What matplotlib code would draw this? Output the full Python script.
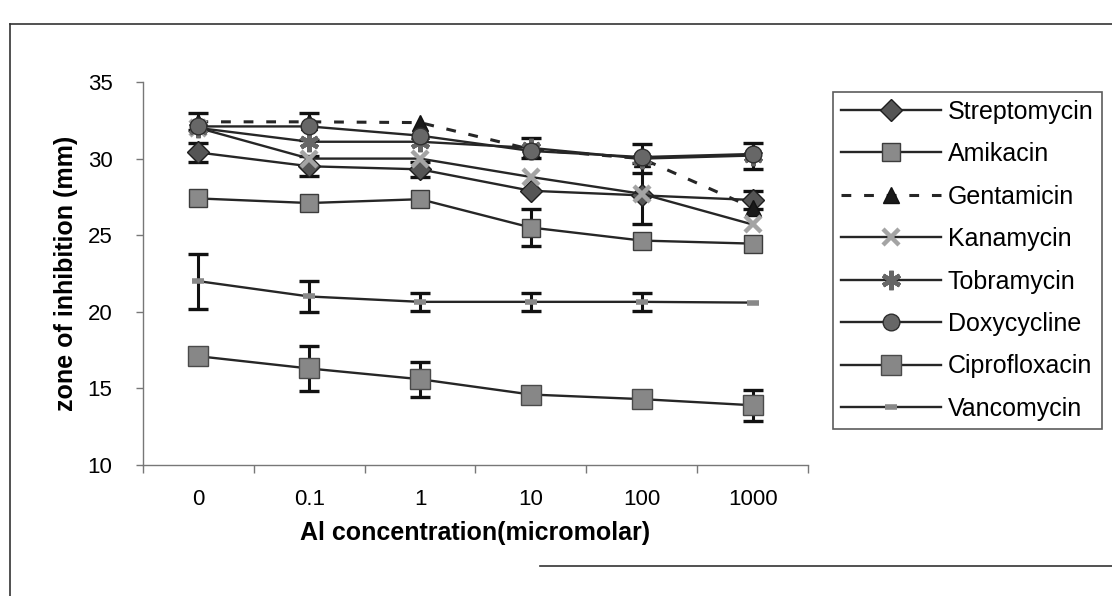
import matplotlib
matplotlib.use("Agg")
import matplotlib.pyplot as plt
from matplotlib.lines import Line2D
import numpy as np

plt.rcParams['font.family'] = ['Liberation Sans', 'DejaVu Sans']

# Al concentration categories (micromolar)
concentrations = ['0', '0.1', '1', '10', '100', '1000']

# Mean zone of inhibition (mm) per antibiotic
streptomycin = [30.4, 29.5, 29.3, 27.9, 27.6, 27.3]
amikacin = [27.4, 27.1, 27.35, 25.5, 24.65, 24.45]
gentamicin = [32.4, 32.4, 32.35, 30.6, 30.0, 26.8]
kanamycin = [32.0, 30.0, 30.0, 28.8, 27.7, 25.7]
tobramycin = [32.0, 31.1, 31.1, 30.7, 30.0, 30.2]
doxycycline = [32.1, 32.1, 31.5, 30.5, 30.1, 30.3]
ciprofloxacin = [17.1, 16.3, 15.6, 14.6, 14.3, 13.9]
vancomycin = [22.0, 21.0, 20.65, 20.65, 20.65, 20.6]

# Standard deviations (mm)
streptomycin_sd = [0.6, 0.65, 0.5, 0.0, 0.0, 0.6]
amikacin_sd = [0.0, 0.0, 0.0, 1.2, 0.0, 0.0]
gentamicin_sd = [0.55, 0.0, 0.0, 0.0, 0.0, 0.0]
kanamycin_sd = [0.0, 0.0, 0.0, 0.0, 2.0, 0.0]
tobramycin_sd = [0.0, 0.0, 0.0, 0.65, 0.95, 0.85]
doxycycline_sd = [0.0, 0.9, 0.0, 0.0, 0.0, 0.0]
ciprofloxacin_sd = [0.0, 1.5, 1.15, 0.0, 0.0, 1.0]
vancomycin_sd = [1.8, 1.0, 0.6, 0.6, 0.6, 0.0]

series = [
    ('Streptomycin', streptomycin, streptomycin_sd,
     dict(marker='D', ms=11, mfc='#555555', mec='#1e1e1e', ls='-')),
    ('Amikacin', amikacin, amikacin_sd,
     dict(marker='s', ms=13, mfc='#8a8a8a', mec='#3c3c3c', ls='-')),
    ('Gentamicin', gentamicin, gentamicin_sd,
     dict(marker='^', ms=12, mfc='#1a1a1a', mec='#111111', ls=(0, (3.2, 4.2)), lw=2.2)),
    ('Kanamycin', kanamycin, kanamycin_sd,
     dict(marker='x', ms=12, mfc='#a8a8a8', mec='#a4a4a4', mew=3.2, ls='-')),
    ('Tobramycin', tobramycin, tobramycin_sd,
     dict(marker=(6, 2, 0), ms=14, mfc='#666666', mec='#666666', mew=3.2, ls='-')),
    ('Doxycycline', doxycycline, doxycycline_sd,
     dict(marker='o', ms=12, mfc='#676767', mec='#2e2e2e', ls='-')),
    ('Ciprofloxacin', ciprofloxacin, ciprofloxacin_sd,
     dict(marker='s', ms=14, mfc='#878787', mec='#4a4a4a', ls='-')),
    ('Vancomycin', vancomycin, vancomycin_sd,
     dict(marker='_', ms=9, mfc='#888888', mec='#888888', mew=4, ls='-')),
]

fig = plt.figure(figsize=(11.12, 5.96), dpi=100)
ax = fig.add_axes([143 / 1112, 1 - 465 / 596, (808 - 143) / 1112, (465 - 82) / 596])

x = np.arange(len(concentrations))
handles = []
for name, vals, sd, st in series:
    vals = np.asarray(vals)
    sd = np.asarray(sd)
    mask = sd > 0
    if mask.any():
        ax.errorbar(x[mask], vals[mask], yerr=sd[mask], fmt='none', ecolor='#111111',
                    elinewidth=2.2, capsize=7, capthick=2.4, zorder=2)
    line, = ax.plot(x, vals, color='#262626', lw=st.get('lw', 1.7), linestyle=st['ls'],
                    marker=st['marker'], markersize=st['ms'],
                    markerfacecolor=st['mfc'], markeredgecolor=st['mec'],
                    markeredgewidth=st.get('mew', 1.0), label=name, zorder=3)
    handles.append(line)

ax.set_xlim(-0.5, len(concentrations) - 0.5)
ax.set_ylim(10, 35)
ax.set_yticks([10, 15, 20, 25, 30, 35])
ax.set_xticks(x)
ax.set_xticklabels(concentrations)
ax.set_xticks(np.arange(-0.5, len(concentrations)), minor=True)
ax.tick_params(axis='x', which='major', length=0, pad=17, labelsize=16)
ax.tick_params(axis='x', which='minor', length=6, width=1, color='#777777', direction='out')
ax.tick_params(axis='y', which='major', length=5, width=1, color='#777777', direction='out',
               pad=17, labelsize=16)

for side in ('top', 'right'):
    ax.spines[side].set_visible(False)
for side in ('left', 'bottom'):
    ax.spines[side].set_color('#777777')
    ax.spines[side].set_linewidth(1.0)

ax.set_xlabel('Al concentration(micromolar)', fontsize=18, fontweight='bold')
ax.set_ylabel('zone of inhibition (mm)', fontsize=18, fontweight='bold')
ax.xaxis.set_label_coords(0.5, -(533 - 465) / (465 - 82), transform=ax.transAxes)
ax.yaxis.set_label_coords(-(143 - 66) / (808 - 143), 0.5, transform=ax.transAxes)
ax.xaxis.label.set_va('center')
ax.yaxis.label.set_va('center')

leg = fig.legend(handles=handles, loc='upper left',
                 bbox_to_anchor=(833 / 1112, 1 - 417 / 596, (1102 - 833) / 1112, (417 - 92) / 596),
                 mode='expand', fontsize=18, frameon=True, fancybox=False,
                 handlelength=4.0, handletextpad=0.3, labelspacing=0.74,
                 borderpad=0.3, borderaxespad=0.0)
leg.get_frame().set_edgecolor('#333333')
leg.get_frame().set_linewidth(1.2)

# Chart area border
fig.add_artist(Line2D([10 / 1112, 1.0], [1 - 24 / 596, 1 - 24 / 596],
                      transform=fig.transFigure, color='#333333', lw=1.2))
fig.add_artist(Line2D([10 / 1112, 10 / 1112], [1 - 24 / 596, 0.0],
                      transform=fig.transFigure, color='#333333', lw=1.2))
fig.add_artist(Line2D([540 / 1112, 1.0], [1 - 566 / 596, 1 - 566 / 596],
                      transform=fig.transFigure, color='#333333', lw=1.2))

fig.savefig('out.png', dpi=100, facecolor='white')
